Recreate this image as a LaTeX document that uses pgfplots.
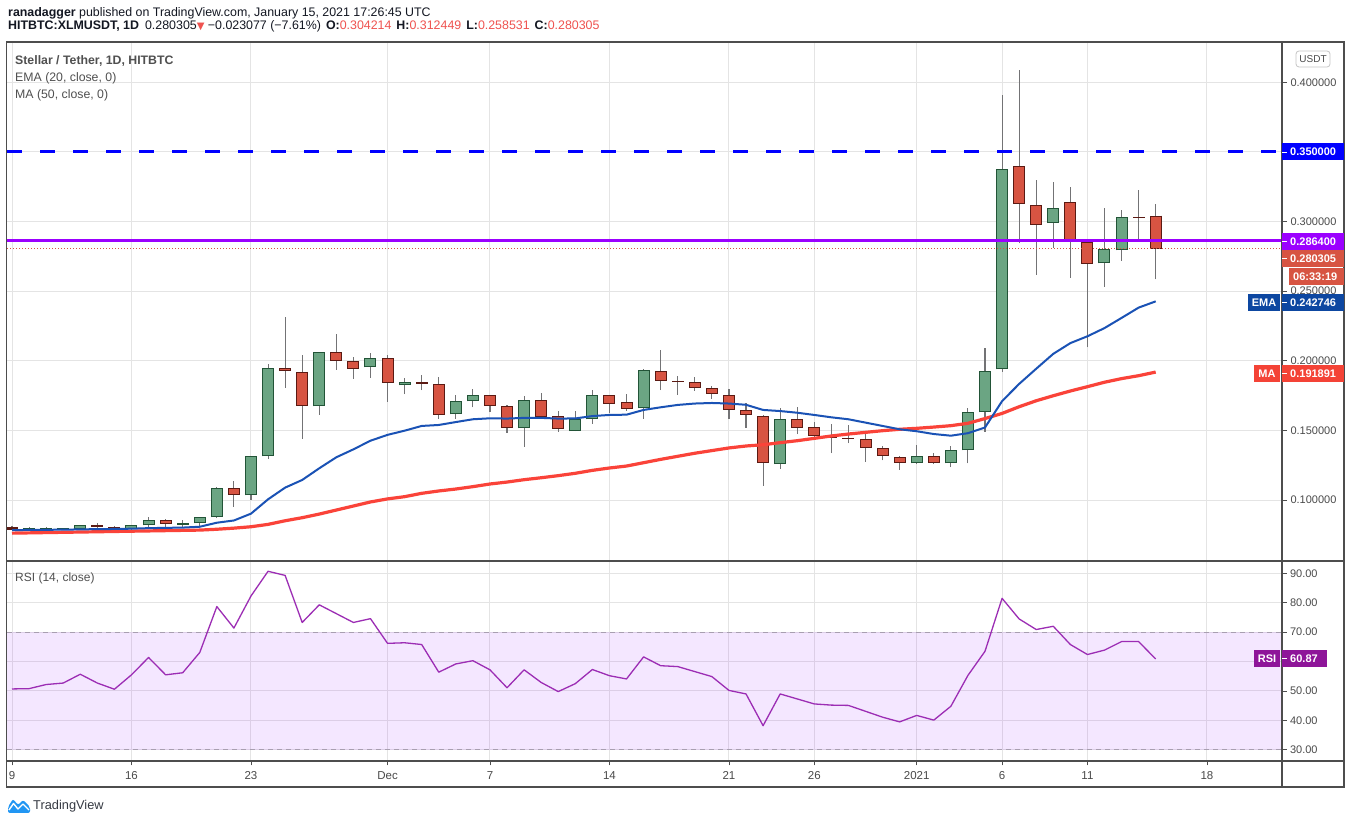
\documentclass[border=0pt]{standalone}
\usepackage{fontspec}
\setmainfont{Liberation Sans}
\newfontfamily\dejavu{DejaVu Sans}
\usepackage{pgfplots}
\usepackage{pgfplotstable}
\usetikzlibrary{backgrounds}
\pgfplotsset{compat=1.18}

\definecolor{upfill}{HTML}{6BA583}
\definecolor{upline}{HTML}{225437}
\definecolor{dnfill}{HTML}{D75442}
\definecolor{dnline}{HTML}{5B1A13}
\definecolor{wickc}{HTML}{737375}
\definecolor{emac}{HTML}{1A52B5}
\definecolor{emabox}{HTML}{0D47A1}
\definecolor{mac}{HTML}{FA4339}
\definecolor{mabox}{HTML}{F44336}
\definecolor{lvlc}{HTML}{9B00FF}
\definecolor{resc}{HTML}{0000FF}
\definecolor{rsic}{HTML}{9C2DB4}
\definecolor{rsibox}{HTML}{8E1599}
\definecolor{bandc}{HTML}{9915FF}
\definecolor{gridc}{HTML}{E4E4E4}
\definecolor{dashc}{HTML}{A89FB0}
\definecolor{tickc}{HTML}{4A4A4A}
\definecolor{framec}{HTML}{4D4D4D}
\definecolor{hred}{HTML}{EF5350}
\definecolor{headc}{HTML}{131722}
\definecolor{legc}{HTML}{505050}
\definecolor{tvblue}{HTML}{2196F3}

\newcommand{\fs}[1]{\fontsize{#1}{#1}\selectfont}

% up candles
\pgfplotstableread{
i o h l c
1 0.0789 0.0805 0.0785 0.0796
2 0.0788 0.0806 0.0783 0.0798
3 0.0789 0.0800 0.0784 0.0797
4 0.0793 0.0818 0.0785 0.0818
7 0.0792 0.0818 0.0784 0.0818
8 0.0818 0.0878 0.0808 0.0856
10 0.0823 0.0856 0.0800 0.0835
11 0.0832 0.0880 0.0813 0.0875
12 0.0875 0.1094 0.0870 0.1084
14 0.1034 0.1318 0.1000 0.1314
15 0.1314 0.1977 0.1295 0.1946
18 0.1672 0.2063 0.1611 0.2061
21 0.1953 0.2059 0.1879 0.2018
23 0.1824 0.1876 0.1761 0.1845
26 0.1616 0.1754 0.1584 0.1709
27 0.1709 0.1797 0.1665 0.1753
30 0.1515 0.1747 0.1383 0.1717
33 0.1494 0.1639 0.1494 0.1580
34 0.1580 0.1790 0.1549 0.1753
37 0.1659 0.1939 0.1582 0.1932
45 0.1257 0.1661 0.1226 0.1580
53 0.1264 0.1395 0.1257 0.1315
55 0.1264 0.1388 0.1236 0.1357
56 0.1357 0.1661 0.1264 0.1630
57 0.1630 0.2095 0.1492 0.1925
58 0.1939 0.3910 0.1922 0.3376
61 0.2988 0.3284 0.2813 0.3096
64 0.2700 0.3098 0.2532 0.2801
65 0.2794 0.3083 0.2719 0.3031
}\upc
\pgfplotstableread{
i o c
4 0.0793 0.0818
7 0.0792 0.0818
8 0.0818 0.0856
11 0.0832 0.0875
12 0.0875 0.1084
14 0.1034 0.1314
15 0.1314 0.1946
18 0.1672 0.2061
21 0.1953 0.2018
23 0.1824 0.1845
26 0.1616 0.1709
27 0.1709 0.1753
30 0.1515 0.1717
33 0.1494 0.1580
34 0.1580 0.1753
37 0.1659 0.1932
45 0.1257 0.1580
53 0.1264 0.1315
55 0.1264 0.1357
56 0.1357 0.1630
57 0.1630 0.1925
58 0.1939 0.3376
61 0.2988 0.3096
64 0.2700 0.2801
65 0.2794 0.3031
}\upin
% down candles
\pgfplotstableread{
i o h l c
0 0.0803 0.0812 0.0786 0.0788
5 0.0819 0.0835 0.0792 0.0803
6 0.0806 0.0812 0.0786 0.0792
9 0.0856 0.0863 0.0806 0.0825
13 0.1084 0.1137 0.0952 0.1034
16 0.1946 0.2317 0.1805 0.1924
17 0.1920 0.2042 0.1440 0.1672
19 0.2061 0.2193 0.1934 0.1996
20 0.1996 0.2027 0.1872 0.1939
22 0.2018 0.2042 0.1706 0.1838
24 0.1846 0.1898 0.1790 0.1830
25 0.1831 0.1884 0.1584 0.1609
28 0.1753 0.1755 0.1635 0.1673
29 0.1673 0.1683 0.1484 0.1515
31 0.1717 0.1769 0.1593 0.1595
32 0.1601 0.1639 0.1491 0.1508
35 0.1753 0.1755 0.1625 0.1688
36 0.1702 0.1761 0.1642 0.1656
38 0.1924 0.2078 0.1790 0.1853
39 0.1854 0.1891 0.1757 0.1845
40 0.1845 0.1884 0.1785 0.1802
41 0.1802 0.1819 0.1729 0.1759
42 0.1753 0.1797 0.1584 0.1644
43 0.1644 0.1695 0.1520 0.1609
44 0.1601 0.1609 0.1104 0.1264
46 0.1580 0.1668 0.1473 0.1515
47 0.1522 0.1560 0.1431 0.1458
48 0.1459 0.1546 0.1336 0.1444
49 0.1446 0.1539 0.1408 0.1438
50 0.1436 0.1480 0.1276 0.1372
51 0.1372 0.1386 0.1285 0.1315
52 0.1307 0.1315 0.1219 0.1264
54 0.1315 0.1336 0.1257 0.1264
59 0.3397 0.4089 0.2844 0.3124
60 0.3117 0.3299 0.2618 0.2973
62 0.3139 0.3249 0.2597 0.2852
63 0.2852 0.2855 0.2097 0.2693
66 0.3034 0.3227 0.2868 0.3026
67 0.304214 0.312449 0.258531 0.280305
}\dnc
\pgfplotstableread{
i o c
9 0.0856 0.0825
13 0.1084 0.1034
16 0.1946 0.1924
17 0.1920 0.1672
19 0.2061 0.1996
20 0.1996 0.1939
22 0.2018 0.1838
25 0.1831 0.1609
28 0.1753 0.1673
29 0.1673 0.1515
31 0.1717 0.1595
32 0.1601 0.1508
35 0.1753 0.1688
36 0.1702 0.1656
38 0.1924 0.1853
40 0.1845 0.1802
41 0.1802 0.1759
42 0.1753 0.1644
43 0.1644 0.1609
44 0.1601 0.1264
46 0.1580 0.1515
47 0.1522 0.1458
50 0.1436 0.1372
51 0.1372 0.1315
52 0.1307 0.1264
54 0.1315 0.1264
59 0.3397 0.3124
60 0.3117 0.2973
62 0.3139 0.2852
63 0.2852 0.2693
67 0.304214 0.280305
}\dnin
% EMA 20
\pgfplotstableread{
i v
0 0.0784
1 0.0785
2 0.0786
3 0.0787
4 0.0789
5 0.0791
6 0.0792
7 0.0794
8 0.0798
9 0.0800
10 0.0802
11 0.0808
12 0.0837
13 0.0853
14 0.0902
15 0.1005
16 0.1089
17 0.1144
18 0.1228
19 0.1307
20 0.1364
21 0.1426
22 0.1468
23 0.1498
24 0.1532
25 0.1539
26 0.1560
27 0.1580
28 0.1587
29 0.1585
30 0.1590
31 0.1590
32 0.1585
33 0.1586
34 0.1603
35 0.1611
36 0.1613
37 0.1647
38 0.1666
39 0.1683
40 0.1693
41 0.1697
42 0.1693
43 0.1684
44 0.1647
45 0.1639
46 0.1627
47 0.1611
48 0.1594
49 0.1580
50 0.1556
51 0.1532
52 0.1508
53 0.1494
54 0.1474
55 0.1462
56 0.1480
57 0.1521
58 0.1710
59 0.1834
60 0.1943
61 0.2050
62 0.2127
63 0.2176
64 0.2235
65 0.2308
66 0.2382
67 0.2427
}\emat
% MA 50
\pgfplotstableread{
i v
0 0.0762
1 0.0764
2 0.0766
3 0.0768
4 0.0770
5 0.0772
6 0.0774
7 0.0776
8 0.0778
9 0.0780
10 0.0782
11 0.0784
12 0.0790
13 0.0798
14 0.0808
15 0.0825
16 0.0851
17 0.0873
18 0.0899
19 0.0928
20 0.0957
21 0.0986
22 0.1008
23 0.1024
24 0.1048
25 0.1065
26 0.1079
27 0.1096
28 0.1115
29 0.1129
30 0.1146
31 0.1160
32 0.1175
33 0.1192
34 0.1213
35 0.1230
36 0.1244
37 0.1268
38 0.1292
39 0.1314
40 0.1336
41 0.1355
42 0.1374
43 0.1388
44 0.1397
45 0.1412
46 0.1426
47 0.1443
48 0.1460
49 0.1474
50 0.1486
51 0.1498
52 0.1508
53 0.1515
54 0.1524
55 0.1534
56 0.1551
57 0.1585
58 0.1622
59 0.1670
60 0.1713
61 0.1749
62 0.1783
63 0.1814
64 0.1846
65 0.1872
66 0.1893
67 0.1919
}\mat
% RSI 14
\pgfplotstableread{
i v
0 50.7
1 50.8
2 52.2
3 52.7
4 55.7
5 52.7
6 50.6
7 55.5
8 61.4
9 55.5
10 56.2
11 63.1
12 78.7
13 71.4
14 82.3
15 90.7
16 89.3
17 73.3
18 79.3
19 76.3
20 73.3
21 74.6
22 66.2
23 66.4
24 65.8
25 56.4
26 59.2
27 60.3
28 57.2
29 51.1
30 57.2
31 52.9
32 49.8
33 52.5
34 57.3
35 55.2
36 54.1
37 61.6
38 58.6
39 58.3
40 56.6
41 54.9
42 50.2
43 49.0
44 38.2
45 49.0
46 47.3
47 45.6
48 45.2
49 45.1
50 43.1
51 41.1
52 39.5
53 41.7
54 40.1
55 44.8
56 55.3
57 63.5
58 81.5
59 74.5
60 70.9
61 72.0
62 65.8
63 62.4
64 63.9
65 66.8
66 66.8
67 60.87
}\rsit

\begin{document}
\begin{tikzpicture}

% ---------- price panel ----------
\begin{axis}[
  at={(7pt,263pt)}, anchor=south west,
  width=1275pt, height=519pt, scale only axis,
  xmin=-0.293, xmax=74.40, ymin=0.0562, ymax=0.4290,
  axis line style={draw=none},
  xtick={0,7,14,22,28,35,42,47,53,58,63,70}, xticklabels={},
  ytick={0.1,0.15,0.2,0.25,0.3,0.35,0.4},
  xmajorgrids, ymajorgrids,
  major grid style={draw=gridc, line width=1pt},
  ytick pos=right, yticklabel pos=right,
  tick align=outside, major tick length=5pt,
  xtick style={draw=none},
  ytick style={draw=framec, line width=0.8pt},
  yticklabel style={font=\fs{11}, text=tickc,
    /pgf/number format/.cd, fixed, fixed zerofill, precision=6, assume math mode=true},
]
% wicks
\addplot[wickc, line width=1.1pt, quiver={u=0, v=\thisrow{h}-\thisrow{l}}] table[x=i, y=l] {\upc};
\addplot[wickc, line width=1.1pt, quiver={u=0, v=\thisrow{h}-\thisrow{l}}] table[x=i, y=l] {\dnc};
% bodies
\addplot[upline, line width=12pt, quiver={u=0, v=\thisrow{c}-\thisrow{o}}] table[x=i, y=o] {\upc};
\addplot[upfill, line width=10pt, quiver={u=0, v=\thisrow{c}-\thisrow{o},
   every arrow/.append style={shorten <=1pt, shorten >=1pt}}] table[x=i, y=o] {\upin};
\addplot[dnline, line width=12pt, quiver={u=0, v=\thisrow{c}-\thisrow{o}}] table[x=i, y=o] {\dnc};
\addplot[dnfill, line width=10pt, quiver={u=0, v=\thisrow{c}-\thisrow{o},
   every arrow/.append style={shorten <=1pt, shorten >=1pt}}] table[x=i, y=o] {\dnin};
% moving averages
\addplot[mac, line width=3.2pt, line join=round] table[x=i, y=v] {\mat};
\addplot[emac, line width=2pt, line join=round] table[x=i, y=v] {\emat};
% horizontal levels
\addplot[dnfill, line width=1pt, dash pattern=on 1pt off 2pt] coordinates {(-0.293,0.280305) (74.4,0.280305)};
\addplot[lvlc, line width=3pt] coordinates {(-0.293,0.2864) (74.4,0.2864)};
\addplot[resc, line width=3pt, dash pattern=on 15pt off 18pt] coordinates {(-0.293,0.35) (74.4,0.35)};
\end{axis}

% ---------- RSI panel ----------
\begin{axis}[
  at={(7pt,63pt)}, anchor=south west,
  width=1275pt, height=200pt, scale only axis,
  xmin=-0.293, xmax=74.40, ymin=26.2, ymax=94.2,
  axis line style={draw=none},
  xtick={0,7,14,22,28,35,42,47,53,58,63,70},
  xticklabels={9,16,23,Dec,7,14,21,26,2021,6,11,18},
  ytick={30,40,50,60,70,80,90},
  yticklabels={30.00,40.00,50.00,,70.00,80.00,90.00},
  xmajorgrids, ymajorgrids,
  major grid style={draw=gridc, line width=1pt},
  xtick pos=left, xticklabel pos=left,
  ytick pos=right, yticklabel pos=right,
  tick align=outside, major tick length=4.5pt,
  xtick style={draw=framec, line width=0.8pt},
  ytick style={draw=framec, line width=0.8pt},
  xticklabel style={font=\fs{11.5}, text=tickc, anchor=base, yshift=-14pt},
  yticklabel style={font=\fs{11}, text=tickc},
]
\fill[bandc, fill opacity=0.1] (axis cs:-0.293,30) rectangle (axis cs:74.4,70);
\addplot[dashc, line width=1pt, dash pattern=on 5pt off 4pt] coordinates {(-0.293,70) (74.4,70)};
\addplot[dashc, line width=1pt, dash pattern=on 5pt off 4pt] coordinates {(-0.293,30) (74.4,30)};
\addplot[rsic, line width=1.3pt, line join=round] table[x=i, y=v] {\rsit};
\end{axis}

\begin{scope}[x=1pt,y=1pt]
% ---------- frame ----------
\draw[framec, line width=1.2pt] (6.5,782) rectangle (1344,37);
\draw[framec, line width=1.2pt] (1282,782) -- (1282,37);
\draw[framec, line width=1.4pt] (6.5,263) -- (1344,263);
\draw[framec, line width=1.2pt] (6.5,63) -- (1344,63);

% ---------- right-axis value boxes ----------
\tikzset{valtxt/.style={anchor=west, inner sep=0pt, text=white, font=\bfseries\fs{11}}}
\fill[resc] (1282,663.5) rectangle (1344,680.5);
\draw[white, line width=0.8pt] (1282,672) -- (1287,672);
\node[valtxt] at (1290,672) {0.350000};
\fill[lvlc] (1282,574) rectangle (1344,591);
\draw[white, line width=0.8pt] (1282,582.5) -- (1287,582.5);
\node[valtxt] at (1290,582.5) {0.286400};
\fill[dnfill] (1282,557) rectangle (1344,574);
\draw[white, line width=0.8pt] (1282,565.5) -- (1287,565.5);
\node[valtxt] at (1290,565.5) {0.280305};
\fill[dnfill] (1289,539) rectangle (1344,556);
\node[valtxt] at (1293,547.5) {06:33:19};
\fill[emabox] (1248,513) rectangle (1280,530);
\node[anchor=center, inner sep=0pt, text=white, font=\bfseries\fs{11}] at (1264,521.5) {EMA};
\fill[emabox] (1282,513) rectangle (1344,530);
\draw[white, line width=0.8pt] (1282,521.5) -- (1287,521.5);
\node[valtxt] at (1290,521.5) {0.242746};
\fill[mabox] (1254,442) rectangle (1280,459);
\node[anchor=center, inner sep=0pt, text=white, font=\bfseries\fs{11}] at (1267,450.5) {MA};
\fill[mabox] (1282,442) rectangle (1344,459);
\draw[white, line width=0.8pt] (1282,450.5) -- (1287,450.5);
\node[valtxt] at (1290,450.5) {0.191891};
\fill[rsibox] (1254,157) rectangle (1280,174);
\node[anchor=center, inner sep=0pt, text=white, font=\bfseries\fs{11}] at (1267,165.5) {RSI};
\fill[rsibox] (1282,157) rectangle (1327,174);
\draw[white, line width=0.8pt] (1282,165.5) -- (1287,165.5);
\node[valtxt] at (1290,165.5) {60.87};
\draw[gray!45, line width=0.8pt, fill=white, rounded corners=3pt] (1296,757) rectangle (1330,773);
\node[inner sep=0pt, text=tickc, font=\fs{10}] at (1313,765) {USDT};

% ---------- header ----------
\node[anchor=base west, inner sep=0pt, text=headc, font=\fs{12.4}] at (8,807.3)
  {\textbf{ranadagger} published on TradingView.com, January 15, 2021 17:26:45 UTC};
\node[anchor=base west, inner sep=0pt, text=headc, font=\fs{12.4}] at (8,794)
  {\textbf{HITBTC:XLMUSDT, 1D}\hspace{6pt}0.280305{\dejavu\fs{10}\textcolor{hred}{▼}} −0.023077 (−7.61\%)\hspace{5pt}\textbf{O:}\textcolor{hred}{0.304214}\hspace{5pt}\textbf{H:}\textcolor{hred}{0.312449}\hspace{5pt}\textbf{L:}\textcolor{hred}{0.258531}\hspace{5pt}\textbf{C:}\textcolor{hred}{0.280305}};

% ---------- legends ----------
\node[anchor=base west, inner sep=0pt, text=legc, font=\bfseries\fs{12.3}] at (15,759) {Stellar / Tether, 1D, HITBTC};
\node[anchor=base west, inner sep=0pt, text=legc, font=\fs{12.3}] at (15,742) {EMA (20, close, 0)};
\node[anchor=base west, inner sep=0pt, text=legc, font=\fs{12.3}] at (15,725) {MA (50, close, 0)};
\node[anchor=base west, inner sep=0pt, text=legc, font=\fs{12}] at (15,242.3) {RSI (14, close)};

% ---------- TradingView logo ----------
\fill[tvblue, rounded corners=2pt] (8,11) -- (8,17) -- (13,25) -- (18,19) -- (23,24) -- (30,17) -- (30,11) -- cycle;
\draw[white, line width=1.4pt, line join=round] (9,14) -- (13.5,20.5) -- (18,15) -- (23,20) -- (29,14);
\node[anchor=base west, inner sep=0pt, text=headc!85, font=\fs{12.8}] at (33,14) {TradingView};

\begin{scope}[on background layer]
\fill[white] (0,0) rectangle (1351,824);
\end{scope}
\pgfresetboundingbox
\path[use as bounding box] (0,0) rectangle (1351,824);
\end{scope}
\end{tikzpicture}
\end{document}
